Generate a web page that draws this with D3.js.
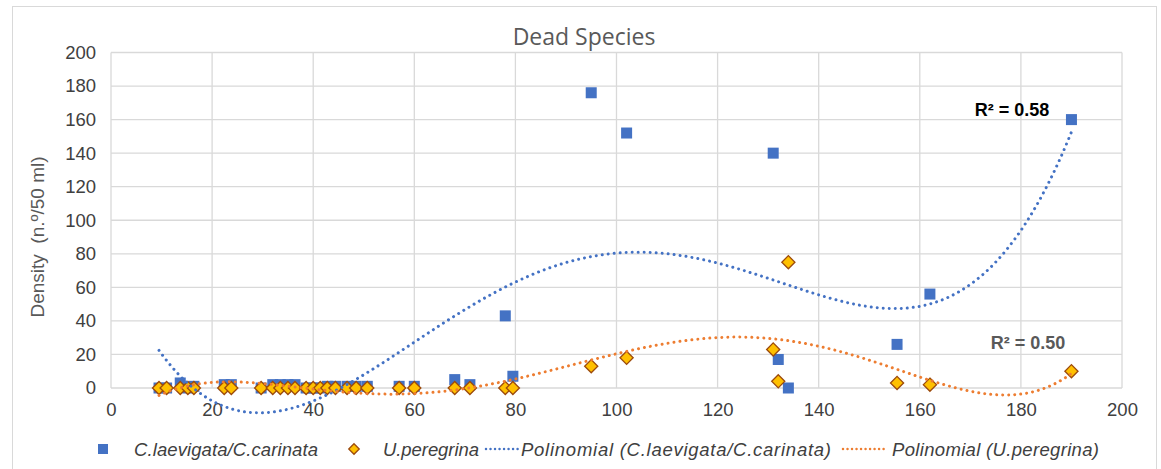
<!DOCTYPE html>
<html>
<head>
<meta charset="utf-8">
<script src="https://cdn.jsdelivr.net/npm/d3@7/dist/d3.min.js"></script>
<style>
body { margin: 0; background: #fff; }
text { font-family: "Liberation Sans", Arial, sans-serif; }
</style>
</head>
<body>
<div id="chart"></div>
<script>
// sample positions (shared by both species)
var sampleX = [9.5, 11, 13.7, 15.2, 16.4, 22.4, 23.8, 29.7, 32, 33.5, 35, 36.4, 38.6, 40, 41.4, 42.8, 44.4, 46.7, 48.5, 50.7, 57, 60, 68, 71, 78, 79.5, 95, 102, 131, 132, 134, 155.5, 162, 190];
// C.laevigata/C.carinata (squares)
var laevigataY = [0, 0, 3, 0, 1, 2, 2, 0, 2, 2, 2, 2, 0, 0, 0, 1, 1, 1, 1, 1, 1, 1, 5, 2, 43, 7, 176, 152, 140, 17, 0, 26, 56, 160];
// U.peregrina (diamonds)
var peregrinaY = [0, 0, 0, 0, 0, 0, 0, 0, 0, 0, 0, 0, 0, 0, 0, 0, 0, 0, 0, 0, 0, 0, 0, 0, 0, 0, 13, 18, 23, 4, 75, 3, 2, 10];

var xTicks = [0, 20, 40, 60, 80, 100, 120, 140, 160, 180, 200];
var yTicks = [0, 20, 40, 60, 80, 100, 120, 140, 160, 180, 200];
var seriesNames = ["C.laevigata/C.carinata", "U.peregrina", "Polinomial (C.laevigata/C.carinata)", "Polinomial (U.peregrina)"];
var r2Labels = ["R² = 0.58", "R² = 0.50"];

var width = 1161, height = 469;
var blue = "#4472C4", orange = "#ED7D31", gold = "#FFC000", brown = "#9C4A0C";

var svg = d3.select("#chart").append("svg")
    .attr("width", width)
    .attr("height", height);

// chart frame
svg.append("rect")
    .attr("x", 12.5).attr("y", 6.5)
    .attr("width", 1144).attr("height", 480)
    .attr("fill", "#fff").attr("stroke", "#d9d9d9");

var x = d3.scaleLinear().domain([0, 200]).range([111, 1122]);
var y = d3.scaleLinear().domain([0, 200]).range([388, 52.5]);

// gridlines
svg.append("g").selectAll("line").data(xTicks).enter().append("line")
    .attr("x1", function (d) { return x(d); }).attr("x2", function (d) { return x(d); })
    .attr("y1", y(0)).attr("y2", y(200))
    .attr("stroke", "#d9d9d9").attr("stroke-width", 1.3);
svg.append("g").selectAll("line").data(yTicks).enter().append("line")
    .attr("y1", function (d) { return y(d); }).attr("y2", function (d) { return y(d); })
    .attr("x1", x(0)).attr("x2", x(200))
    .attr("stroke", "#d9d9d9").attr("stroke-width", 1.3);

// axes (labels only)
var xAxis = d3.axisBottom(x).tickValues(xTicks).tickSize(0).tickPadding(15);
var yAxis = d3.axisLeft(y).tickValues(yTicks).tickSize(0).tickPadding(15);
var gx = svg.append("g").attr("transform", "translate(0," + y(0) + ")").call(xAxis);
var gy = svg.append("g").attr("transform", "translate(" + x(0) + ",0)").call(yAxis);
[gx, gy].forEach(function (g) {
    g.select(".domain").remove();
    g.selectAll("text").attr("font-size", 18.5).attr("fill", "#404040")
        .style("font-family", "'Liberation Sans', Arial, sans-serif");
});

// title
svg.append("text")
    .attr("x", 584).attr("y", 45)
    .attr("text-anchor", "middle")
    .attr("font-size", 23)
    .attr("fill", "#595959")
    .style("font-family", "'Open Sans', 'Noto Sans', sans-serif")
    .text("Dead Species");

// y axis title
svg.append("text")
    .attr("transform", "translate(44,237) rotate(-90)")
    .attr("text-anchor", "middle")
    .attr("font-size", 19)
    .attr("fill", "#595959")
    .style("white-space", "pre")
    .text("Density  (n.º/50 ml)");

// polynomial least squares fit (x scaled by 1/100)
function polyfit(xs, ys, deg) {
    var n = deg + 1, A = [], b = [];
    for (var i = 0; i < n; i++) { A.push(new Array(n).fill(0)); b.push(0); }
    xs.forEach(function (xv, k) {
        var t = xv / 100;
        for (var i = 0; i < n; i++) {
            b[i] += ys[k] * Math.pow(t, i);
            for (var j = 0; j < n; j++) A[i][j] += Math.pow(t, i + j);
        }
    });
    for (var c = 0; c < n; c++) {
        var p = c;
        for (var r = c + 1; r < n; r++) if (Math.abs(A[r][c]) > Math.abs(A[p][c])) p = r;
        var tmp = A[c]; A[c] = A[p]; A[p] = tmp;
        var tb = b[c]; b[c] = b[p]; b[p] = tb;
        for (var r2 = c + 1; r2 < n; r2++) {
            var f = A[r2][c] / A[c][c];
            for (var j2 = c; j2 < n; j2++) A[r2][j2] -= f * A[c][j2];
            b[r2] -= f * b[c];
        }
    }
    var coef = new Array(n).fill(0);
    for (var i2 = n - 1; i2 >= 0; i2--) {
        var s = b[i2];
        for (var j3 = i2 + 1; j3 < n; j3++) s -= A[i2][j3] * coef[j3];
        coef[i2] = s / A[i2][i2];
    }
    return function (xv) {
        var t = xv / 100, v = 0;
        for (var k = 0; k < n; k++) v += coef[k] * Math.pow(t, k);
        return v;
    };
}

var laevigata = sampleX.map(function (d, i) { return { x: d, y: laevigataY[i] }; });
var peregrina = sampleX.map(function (d, i) { return { x: d, y: peregrinaY[i] }; });

// markers
svg.append("g").selectAll("rect").data(laevigata).enter().append("rect")
    .attr("x", function (d) { return x(d.x) - 5.5; })
    .attr("y", function (d) { return y(d.y) - 5.5; })
    .attr("width", 11).attr("height", 11)
    .attr("fill", blue);

var diamond = d3.symbol().type(d3.symbolDiamond2).size(110);
svg.append("g").selectAll("path").data(peregrina).enter().append("path")
    .attr("d", diamond)
    .attr("transform", function (d) { return "translate(" + x(d.x) + "," + y(d.y) + ")"; })
    .attr("fill", gold).attr("stroke", brown).attr("stroke-width", 1.3);

// trendlines (order 4 and 5 polynomials)
var line = d3.line().x(function (d) { return x(d[0]); }).y(function (d) { return y(d[1]); });
function trend(xs, ys, deg, color) {
    var f = polyfit(xs, ys, deg);
    var lo = d3.min(xs), hi = d3.max(xs);
    var pts = d3.range(0, 301).map(function (i) { var xv = lo + (hi - lo) * i / 300; return [xv, f(xv)]; });
    svg.append("path").datum(pts)
        .attr("d", line)
        .attr("fill", "none").attr("stroke", color)
        .attr("stroke-width", 3)
        .attr("stroke-dasharray", "0.01 6")
        .attr("stroke-linecap", "round");
}
trend(sampleX, laevigataY, 4, blue);
trend(sampleX, peregrinaY, 5, orange);

// R² labels
svg.append("text").attr("x", 1012).attr("y", 116).attr("text-anchor", "middle")
    .attr("font-size", 18).attr("font-weight", "bold").attr("fill", "#000").text(r2Labels[0]);
svg.append("text").attr("x", 1028).attr("y", 349).attr("text-anchor", "middle")
    .attr("font-size", 18).attr("font-weight", "bold").attr("fill", "#595959").text(r2Labels[1]);

// legend
var lg = svg.append("g").attr("font-size", 18.5).attr("font-style", "italic").attr("fill", "#404040");
lg.append("rect").attr("x", 98).attr("y", 444).attr("width", 10).attr("height", 10).attr("fill", blue);
lg.append("text").attr("x", 134).attr("y", 456).attr("textLength", 184).text(seriesNames[0]);
lg.append("path").attr("d", d3.symbol().type(d3.symbolDiamond2).size(70))
    .attr("transform", "translate(354,449)")
    .attr("fill", gold).attr("stroke", brown).attr("stroke-width", 1.3);
lg.append("text").attr("x", 383).attr("y", 456).attr("textLength", 96).text(seriesNames[1]);
lg.append("line").attr("x1", 486).attr("x2", 518).attr("y1", 449).attr("y2", 449)
    .attr("stroke", blue).attr("stroke-width", 2.5).attr("stroke-dasharray", "0.01 4.5").attr("stroke-linecap", "round");
lg.append("text").attr("x", 521).attr("y", 456).attr("textLength", 310).text(seriesNames[2]);
lg.append("line").attr("x1", 843).attr("x2", 888).attr("y1", 449).attr("y2", 449)
    .attr("stroke", orange).attr("stroke-width", 2.5).attr("stroke-dasharray", "0.01 4.5").attr("stroke-linecap", "round");
lg.append("text").attr("x", 892).attr("y", 456).attr("textLength", 207).text(seriesNames[3]);
</script>
</body>
</html>
